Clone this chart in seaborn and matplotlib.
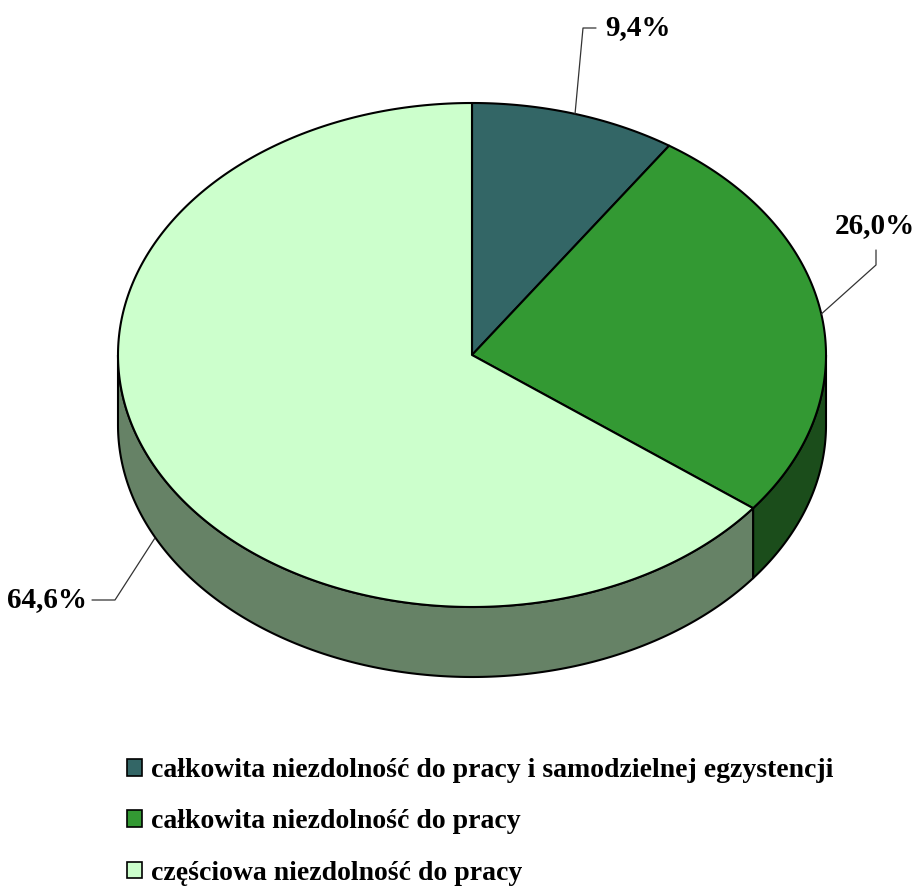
import numpy as np
import matplotlib
matplotlib.use("Agg")
import matplotlib.pyplot as plt
import seaborn as sns
from matplotlib.patches import Polygon, Patch

# dane
categories = ["całkowita niezdolność do pracy i samodzielnej egzystencji",
              "całkowita niezdolność do pracy",
              "częściowa niezdolność do pracy"]
values = [9.4, 26.0, 64.6]
pct_labels = ["9,4%", "26,0%", "64,6%"]
top_colors = ["#336666", "#339933", "#CCFFCC"]
side_colors = ["#1A3333", "#1B4D1B", "#668266"]

sns.set_theme(style="white")
plt.rcParams['font.family'] = ['Liberation Serif', 'DejaVu Serif']
plt.rcParams['text.color'] = 'black'

fig = plt.figure(figsize=(9.15, 8.88), dpi=100)
ax = fig.add_axes([0, 0, 1, 1])
ax.set_xlim(0, 915)
ax.set_ylim(888, 0)
ax.axis('off')

# geometria tortu
cx, cy, rx, ry, depth = 472, 355, 354, 252, 70


def pt(theta, dy=0):
    t = np.radians(theta)
    return (cx + rx * np.sin(t), cy - ry * np.cos(t) + dy)


cum = np.concatenate([[0], np.cumsum(values)]) / np.sum(values) * 360

# boki (widoczna przednia część)
for i in range(len(values)):
    a0, a1 = max(cum[i], 90), min(cum[i + 1], 270)
    if a1 <= a0:
        continue
    th = np.linspace(a0, a1, 200)
    top = [pt(t) for t in th]
    bot = [pt(t, depth) for t in th[::-1]]
    ax.add_patch(Polygon(top + bot, closed=True, fc=side_colors[i], ec='black', lw=1.5, joinstyle='round'))

# wierzch
for i in range(len(values)):
    th = np.linspace(cum[i], cum[i + 1], 300)
    poly = [(cx, cy)] + [pt(t) for t in th]
    ax.add_patch(Polygon(poly, closed=True, fc=top_colors[i], ec='black', lw=1.5, joinstyle='round'))

# etykiety z liniami
mids = (cum[:-1] + cum[1:]) / 2
anchors = [pt(mids[0]), pt(mids[1]), pt(mids[2], 72)]
elbows = [[(583, 28), (596, 28)],
          [(876, 265), (876, 250)],
          [(115, 600), (92, 600)]]
text_pos = [(638, 28), (875, 226), (47, 600)]
for i in range(len(values)):
    xs = [anchors[i][0]] + [p[0] for p in elbows[i]]
    ys = [anchors[i][1]] + [p[1] for p in elbows[i]]
    ax.plot(xs, ys, color='#333333', lw=0.9)
    x, y = text_pos[i]
    ax.text(x, y, pct_labels[i], ha='center', va='center', fontsize=21, fontweight='bold', color='black')

# legenda
handles = [Patch(fc=c, ec='black', lw=1.2) for c in top_colors]
leg = fig.legend(handles, categories, loc='upper left', bbox_to_anchor=(127 / 915, 1 - 758 / 888),
                 frameon=False, prop={'weight': 'bold', 'size': 20},
                 handlelength=0.55, handleheight=0.55, handletextpad=0.3, labelspacing=0.95,
                 borderpad=0, borderaxespad=0)
for t in leg.get_texts():
    t.set_color('black')

plt.savefig("out.png", dpi=100)
